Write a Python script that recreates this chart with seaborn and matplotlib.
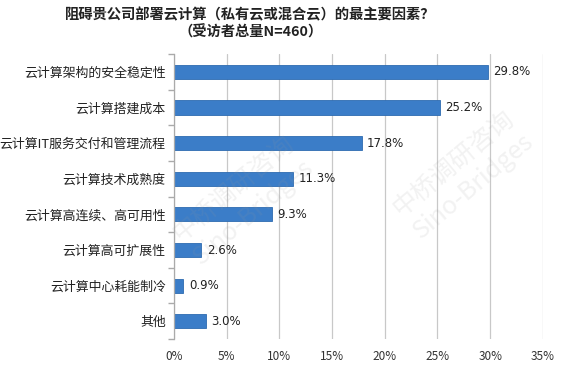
import matplotlib
matplotlib.use("Agg")
import matplotlib.pyplot as plt
import seaborn as sns
import pandas as pd

categories = ["云计算架构的安全稳定性", "云计算搭建成本", "云计算IT服务交付和管理流程",
              "云计算技术成熟度", "云计算高连续、高可用性", "云计算高可扩展性",
              "云计算中心耗能制冷", "其他"]
values = [29.8, 25.2, 17.8, 11.3, 9.3, 2.6, 0.9, 3.0]
xticks = [0, 5, 10, 15, 20, 25, 30, 35]
title = "阻碍贵公司部署云计算（私有云或混合云）的最主要因素？\n（受访者总量N=460）"

sns.set_theme(style="white")
plt.rcParams['font.family'] = ['Noto Sans CJK SC', 'DejaVu Sans']

df = pd.DataFrame({"cat": categories, "val": values})

fig = plt.figure(figsize=(5.8, 3.65), dpi=100)
ax = fig.add_axes([0.30, 0.071, 0.636, 0.781])
sns.barplot(data=df, x="val", y="cat", color="#3B7DC8", width=0.4,
            saturation=1, ax=ax, edgecolor="#2E6BB0", linewidth=0.6)

ax.set_xlim(0, 35)
ax.set_xticks(xticks)
ax.set_xticklabels([f"{t}%" for t in xticks], fontsize=8.5, color="#333333")
ax.tick_params(axis="x", length=0, pad=8)
ax.tick_params(axis="y", length=0, pad=6, labelsize=9.3, labelcolor="#222222")
ax.set_xlabel("")
ax.set_ylabel("")
ax.grid(axis="x", color="#C8C8C8", linewidth=0.9)
ax.set_axisbelow(True)
for s in ["top", "right", "bottom"]:
    ax.spines[s].set_visible(False)
ax.spines["left"].set_color("#AAAAAA")
ax.spines["left"].set_linewidth(0.9)

# minor ticks between categories on y axis
ax.set_yticks([i + 0.5 for i in range(-1, len(categories))], minor=True)
ax.tick_params(axis="y", which="minor", length=4, color="#AAAAAA", left=True)

for i, v in enumerate(values):
    ax.text(v + 0.5, i, f"{v}%", va="center", ha="left", fontsize=8.5, color="#222222",
            family=['DejaVu Sans'])

# watermarks
fig.text(0.42, 0.45, "中桥调研咨询\nSino-Bridges", rotation=40, fontsize=18, color="#999999",
         alpha=0.13, ha="center", va="center")
fig.text(0.8, 0.52, "中桥调研咨询\nSino-Bridges", rotation=40, fontsize=18, color="#999999",
         alpha=0.13, ha="center", va="center")

fig.suptitle(title, x=0.432, y=0.978, fontsize=10.3, fontweight="bold", color="#222222",
             linespacing=1.25)

fig.savefig("out.png", dpi=100)
